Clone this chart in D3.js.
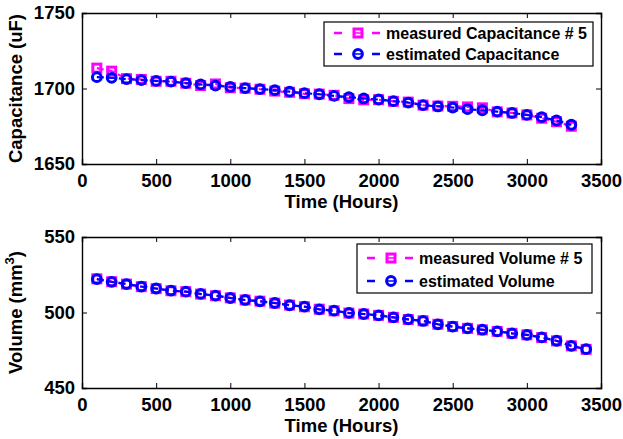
<!DOCTYPE html>
<html>
<head>
<meta charset="utf-8">
<script src="https://cdn.jsdelivr.net/npm/d3@7"></script>
<style>
  body { margin: 0; background: #fff; }
  text { font-family: "Liberation Sans", Arial, sans-serif; font-weight: bold; }
</style>
</head>
<body>
<div id="chart"></div>
<script>
// Data
var hoursCap = d3.range(100, 3301, 100)
var measuredCap = [1713.5, 1711.5, 1706.5, 1706, 1704.8, 1704.8, 1703.5, 1702, 1703, 1700.5,
  1700.2, 1699.5, 1698.3, 1697.5, 1696.5, 1696.3, 1695.5, 1693.3, 1692.5, 1692.6,
  1691.5, 1691, 1689, 1688.4, 1688.2, 1687.8, 1687.2, 1684.5, 1683.8, 1682.5,
  1680.3, 1678, 1675]
var estimatedCap = [1707.5, 1707.1, 1706.2, 1705.6, 1705, 1704.6, 1703.6, 1702.7, 1701.9, 1701.1,
  1700.3, 1699.6, 1698.9, 1697.9, 1696.9, 1696.2, 1695.1, 1694.3, 1693.4, 1692.7,
  1691.6, 1690.7, 1689, 1688.1, 1687.4, 1686.3, 1685.6, 1684.7, 1683.8, 1682.5,
  1681, 1678.8, 1676]

var hoursVol = d3.range(100, 3401, 100)
var measuredVol = [522.3, 520.4, 518.8, 517.1, 515.8, 514.4, 513.8, 512.2, 511.1, 509.7,
  508.3, 507.5, 506.2, 504.9, 503.8, 502.2, 501.1, 499.6, 499, 498.1,
  496.8, 495.4, 494.5, 492.2, 490.7, 489.5, 488.5, 487.5, 486.2, 485.2,
  483.4, 481.2, 477.9, 475.6]
var estimatedVol = [522.1, 520.3, 518.8, 517.2, 515.9, 514.5, 513.8, 512.3, 511.2, 509.6,
  508.3, 507.4, 506.3, 504.8, 503.9, 502.1, 501.2, 499.7, 499, 498.1,
  496.8, 495.5, 494.4, 492.2, 490.6, 489.5, 488.6, 487.5, 486.2, 485.2,
  483.5, 481.3, 477.9, 475.7]

var xTicks = [0, 500, 1000, 1500, 2000, 2500, 3000, 3500]
var capTicks = [1650, 1700, 1750]
var volTicks = [450, 500, 550]

var svgWidth = 623
var svgHeight = 439

var svg = d3.select('#chart')
  .append('svg')
  .attr('width', svgWidth)
  .attr('height', svgHeight)

var magenta = '#ff00ff'
var blue = '#0000ff'
var fontSize = '18.5px'

function drawPanel(opts) {
  var left = 82, right = 601
  var x = d3.scaleLinear().domain([0, 3500]).range([left, right])
  var y = d3.scaleLinear().domain(opts.yDomain).range([opts.bottom, opts.top])
  var g = svg.append('g')

  // axes (ticks inward, box on all sides)
  g.append('g')
    .attr('transform', `translate(0, ${opts.bottom})`)
    .call(d3.axisBottom(x).tickValues(xTicks).tickSize(-5).tickPadding(10).tickFormat(d3.format('d')))
  g.append('g')
    .attr('transform', `translate(0, ${opts.top})`)
    .call(d3.axisTop(x).tickValues(xTicks).tickSize(-5).tickFormat(''))
  g.append('g')
    .attr('transform', `translate(${left}, 0)`)
    .call(d3.axisLeft(y).tickValues(opts.yTicks).tickSize(-5).tickPadding(7).tickFormat(d3.format('d')))
  g.append('g')
    .attr('transform', `translate(${right}, 0)`)
    .call(d3.axisRight(y).tickValues(opts.yTicks).tickSize(-5).tickFormat(''))

  g.selectAll('.domain').attr('stroke', '#000').attr('stroke-width', 1.4)
  g.selectAll('.tick line').attr('stroke', '#000').attr('stroke-width', 1)
  g.selectAll('.tick text').style('font-size', fontSize).style('font-weight', 'bold')
    .style('font-family', '"Liberation Sans", Arial, sans-serif').attr('fill', '#000')

  var line = d3.line().x(d => x(d[0])).y(d => y(d[1]))
  var mPts = opts.hours.map((h, i) => [h, opts.measured[i]])
  var ePts = opts.hours.map((h, i) => [h, opts.estimated[i]])

  g.append('path').datum(mPts).attr('d', line)
    .attr('fill', 'none').attr('stroke', magenta).attr('stroke-width', 2.2).attr('stroke-dasharray', '7,4')
  g.selectAll('.sq').data(mPts).enter().append('rect')
    .attr('x', d => x(d[0]) - 4).attr('y', d => y(d[1]) - 4)
    .attr('width', 8).attr('height', 8)
    .attr('fill', 'none').attr('stroke', magenta).attr('stroke-width', 3)

  g.append('path').datum(ePts).attr('d', line)
    .attr('fill', 'none').attr('stroke', blue).attr('stroke-width', 2.2).attr('stroke-dasharray', '7,4')
  g.selectAll('.ci').data(ePts).enter().append('circle')
    .attr('cx', d => x(d[0])).attr('cy', d => y(d[1])).attr('r', 4.4)
    .attr('fill', 'none').attr('stroke', blue).attr('stroke-width', 3)

  // axis labels
  g.append('text')
    .attr('x', (left + right) / 2).attr('y', opts.bottom + 44)
    .attr('text-anchor', 'middle').style('font-size', fontSize)
    .text('Time (Hours)')

  var yl = g.append('text')
    .attr('transform', `translate(22, ${(opts.top + opts.bottom) / 2}) rotate(-90)`)
    .attr('text-anchor', 'middle').style('font-size', fontSize)
  if (opts.sup) {
    yl.append('tspan').text(opts.yLabel)
    yl.append('tspan').attr('dy', -8).style('font-size', '13px').text(opts.sup)
    yl.append('tspan').attr('dy', 8).text(')')
  } else {
    yl.text(opts.yLabel)
  }

  // legend
  var lg = g.append('g')
  lg.append('rect')
    .attr('x', opts.legend.x0).attr('y', opts.legend.y0)
    .attr('width', opts.legend.x1 - opts.legend.x0).attr('height', opts.legend.y1 - opts.legend.y0)
    .attr('fill', '#fff').attr('stroke', '#000').attr('stroke-width', 1.2)
  var rows = [
    { label: opts.legendLabels[0], color: magenta, shape: 'sq' },
    { label: opts.legendLabels[1], color: blue, shape: 'ci' }
  ]
  var lx = opts.legend.x0 + 10
  rows.forEach((r, i) => {
    var cy = opts.legend.y0 + opts.legend.first + i * opts.legend.step
    lg.append('line').attr('x1', lx).attr('x2', lx + 8).attr('y1', cy).attr('y2', cy)
      .attr('stroke', r.color).attr('stroke-width', 2.5)
    lg.append('line').attr('x1', lx + 38).attr('x2', lx + 46).attr('y1', cy).attr('y2', cy)
      .attr('stroke', r.color).attr('stroke-width', 2.5)
    if (r.shape === 'sq') {
      lg.append('rect').attr('x', lx + 20).attr('y', cy - 4).attr('width', 8).attr('height', 8)
        .attr('fill', 'none').attr('stroke', r.color).attr('stroke-width', 3)
    } else {
      lg.append('circle').attr('cx', lx + 24).attr('cy', cy).attr('r', 4.4)
        .attr('fill', 'none').attr('stroke', r.color).attr('stroke-width', 3)
    }
    lg.append('line').attr('x1', lx + 20).attr('x2', lx + 28).attr('y1', cy).attr('y2', cy)
      .attr('stroke', r.color).attr('stroke-width', 1.5)
    lg.append('text').attr('x', lx + 52).attr('y', cy + 6)
      .style('font-size', '16px').text(r.label)
  })
}

drawPanel({
  top: 13, bottom: 164,
  yDomain: [1650, 1750], yTicks: capTicks,
  hours: hoursCap, measured: measuredCap, estimated: estimatedCap,
  yLabel: 'Capacitance (uF)',
  legend: { x0: 324, y0: 22, x1: 593, y1: 66, first: 11, step: 21 },
  legendLabels: ['measured Capacitance # 5', 'estimated Capacitance']
})

drawPanel({
  top: 237, bottom: 388,
  yDomain: [450, 550], yTicks: volTicks,
  hours: hoursVol, measured: measuredVol, estimated: estimatedVol,
  yLabel: 'Volume (mm', sup: '3',
  legend: { x0: 357, y0: 244, x1: 592, y1: 293, first: 14, step: 23 },
  legendLabels: ['measured Volume # 5', 'estimated Volume']
})
</script>
</body>
</html>
